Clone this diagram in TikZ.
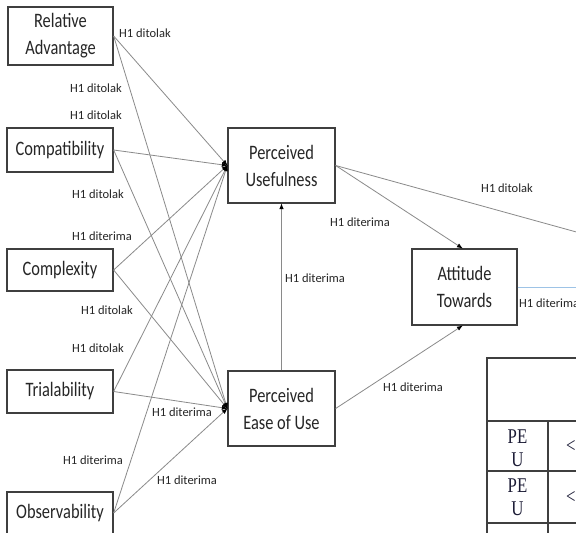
\documentclass[tikz,border=0pt]{standalone}
\usepackage{fontspec}
\setmainfont{Carlito}
\newfontfamily\boxfont[FakeStretch=0.8]{Carlito}
\newfontfamily\tabfont[FakeStretch=0.8]{Liberation Serif}
\usetikzlibrary{arrows.meta}
\definecolor{boxgray}{HTML}{3F3F3F}
\definecolor{linegray}{HTML}{8A8A8A}
\definecolor{bluelink}{HTML}{9DC3E6}
\definecolor{tabtext}{HTML}{1C1C36}
\begin{document}
\begin{tikzpicture}[x=1pt,y=-1pt,
  box/.style={draw=boxgray, line width=1.3pt, fill=white, align=center,
    font=\boxfont\fontsize{20.5}{27}\selectfont, inner sep=0pt, text=black!85},
  link/.style={draw=linegray, line width=0.8pt},
  arr/.style={link, -{Latex[length=6pt,width=4.5pt,black]}, shorten >=-0.5pt},
  lbl/.style={font=\fontsize{12.5}{14}\selectfont, text=black!85, inner sep=0pt},
  tab/.style={draw=boxgray, line width=1.3pt},
  tabtxt/.style={font=\tabfont\fontsize{21}{22.5}\selectfont, text=tabtext, align=center, inner sep=0pt}
]
\clip (0,0) rectangle (576,533);
\fill[white] (0,0) rectangle (576,533);

% boxes
\node[box, minimum width=105pt, minimum height=58pt] (ra) at (60.5,36) {Relative\\Advantage};
\node[box, minimum width=106pt, minimum height=44pt] (comp) at (60,150) {Compatibility};
\node[box, minimum width=106pt, minimum height=42pt] (cplx) at (60,270) {Complexity};
\node[box, minimum width=106pt, minimum height=43pt] (trial) at (60,391.5) {Trialability};
\node[box, minimum width=106pt, minimum height=42pt] (obs) at (60,513) {Observability};
\node[box, minimum width=107pt, minimum height=75pt] (pu) at (281.5,165.5) {Perceived\\Usefulness};
\node[box, minimum width=107pt, minimum height=75pt] (peou) at (281.5,408.5) {Perceived\\Ease of Use};
\node[box, minimum width=105pt, minimum height=76pt] (att) at (464.5,287) {Attitude\\Towards};

\coordinate (rightend) at (580,233);
\coordinate (blueend) at (580,287);

% connectors from left boxes
\foreach \s in {ra,comp,cplx,trial,obs}{
  \draw[arr] (\s.east) -- (pu.west);
  \draw[arr] (\s.east) -- (peou.west);
}
\draw[arr] (pu.east) -- ([xshift=-2pt]att.north);
\draw[link] (pu.east) -- (rightend);
\draw[arr] (peou.north) -- (pu.south);
\draw[arr] (peou.east) -- ([xshift=-2pt]att.south);
\draw[draw=bluelink, line width=0.8pt] (att.east) -- (blueend);

% labels
\node[lbl] (l1) at (145,33) {H1 ditolak};
\node[lbl] (l2) at (96,88) {H1 ditolak};
\node[lbl] (l3) at (96,115) {H1 ditolak};
\node[lbl] (l4) at (98,194) {H1 ditolak};
\node[lbl] (l5) at (102,236) {H1 diterima};
\node[lbl] (l6) at (107,310) {H1 ditolak};
\node[lbl] (l7) at (98,348) {H1 ditolak};
\node[lbl] (l8) at (182,412) {H1 diterima};
\node[lbl] (l9) at (93,460) {H1 diterima};
\node[lbl] (l10) at (187,480) {H1 diterima};
\node[lbl] (l11) at (360,222) {H1 diterima};
\node[lbl] (l12) at (315,278) {H1 diterima};
\node[lbl] (l13) at (507,188) {H1 ditolak};
\node[lbl, anchor=west] (l14) at (519,303) {H1 diterima};
\node[lbl] (l15) at (413,387) {H1 diterima};

% table (cut off at the right and bottom)
\draw[tab] (487,358) rectangle (600,620);
\draw[tab] (487,421) -- (600,421);
\draw[tab] (487,471) -- (600,471);
\draw[tab] (487,523) -- (600,523);
\draw[tab] (548,421) -- (548,620);
\node[tabtxt] (c1) at (517.5,448) {PE\\U};
\node[tabtxt] (c2) at (517.5,497) {PE\\U};
\node[tabtxt, anchor=west] (c3) at (566,446) {<};
\node[tabtxt, anchor=west] (c4) at (566,497) {<};
\end{tikzpicture}
\end{document}
